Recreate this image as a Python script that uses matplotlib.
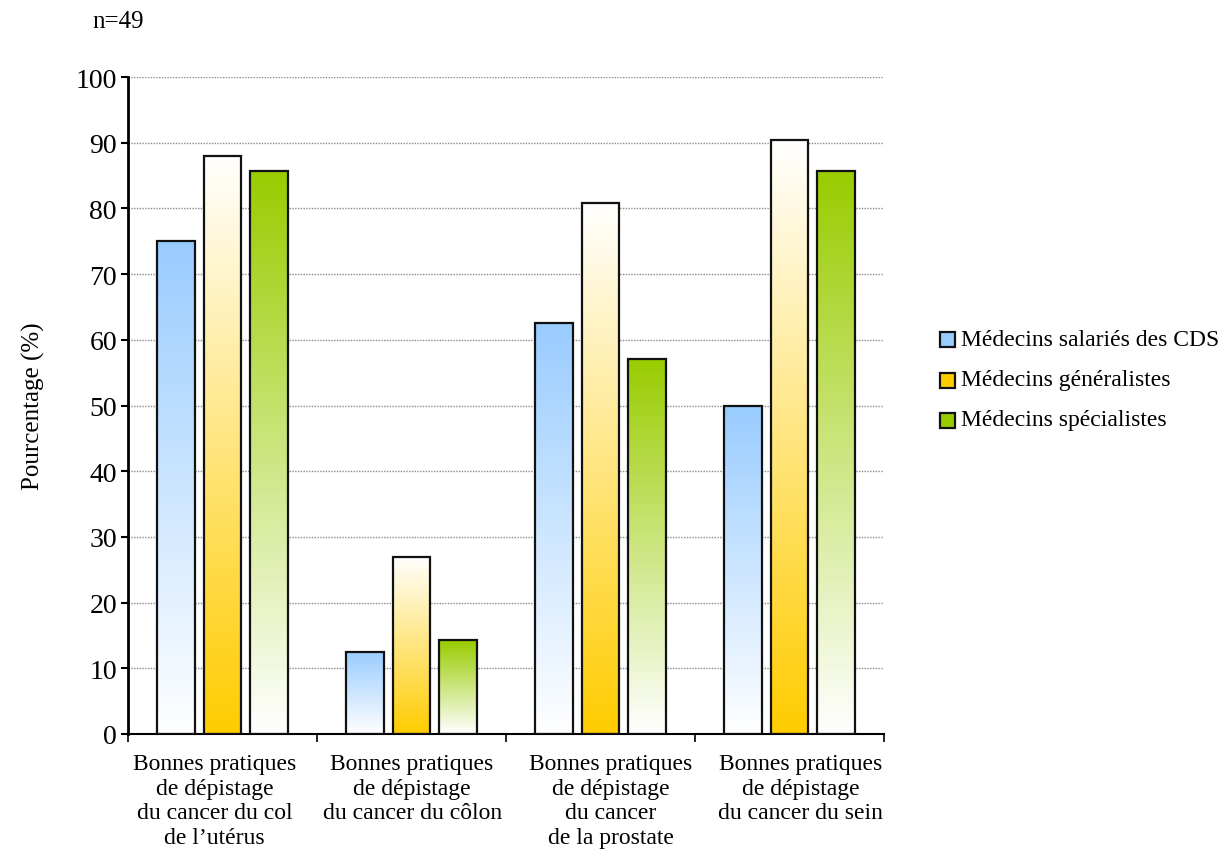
import numpy as np
import matplotlib
matplotlib.use("Agg")
import matplotlib.pyplot as plt
from matplotlib.patches import Rectangle
from matplotlib.colors import to_rgb

plt.rcParams['font.family'] = ['Liberation Serif', 'DejaVu Serif']

categories = [
    "Bonnes pratiques\nde dépistage\ndu cancer du col\nde l\u2019utérus",
    "Bonnes pratiques\nde dépistage\ndu cancer du côlon",
    "Bonnes pratiques\nde dépistage\ndu cancer\nde la prostate",
    "Bonnes pratiques\nde dépistage\ndu cancer du sein",
]
series_names = ["Médecins salariés des CDS", "Médecins généralistes", "Médecins spécialistes"]
salaries_cds = [75.0, 12.5, 62.5, 50.0]
generalistes = [88.0, 27.0, 80.8, 90.4]
specialistes = [85.7, 14.3, 57.1, 85.7]
yticks = [0, 10, 20, 30, 40, 50, 60, 70, 80, 90, 100]

series_values = [salaries_cds, generalistes, specialistes]
base_colors = ["#99ccff", "#ffcc00", "#99cc00"]
# (top colour, bottom colour) of each bar's vertical gradient
gradients = [("#99ccff", "#ffffff"), ("#ffffff", "#ffcc00"), ("#99cc00", "#ffffff")]

W, H = 1223, 854
fig = plt.figure(figsize=(W / 100, H / 100), dpi=100)
ax = fig.add_axes([128 / W, 1 - 735 / H, (884 - 128) / W, (735 - 78) / H])

bar_w = 0.2
offsets = [-0.245, 0.0, 0.245]
centers = np.arange(len(categories)) + 0.5
# horizontal nudge of each category caption relative to its group centre
label_shift = [-0.042, 0.003, 0.053, 0.058]

def gradient_image(top, bottom, n=256):
    t = np.linspace(0, 1, n)[:, None]
    top = np.array(to_rgb(top)); bottom = np.array(to_rgb(bottom))
    img = bottom[None, :] * (1 - t) + top[None, :] * t
    return img[:, None, :]

for vals, off, (ctop, cbot) in zip(series_values, offsets, gradients):
    img = gradient_image(ctop, cbot)
    for c, v in zip(centers, vals):
        x0 = c + off - bar_w / 2
        ax.imshow(img, extent=[x0, x0 + bar_w, 0, v], origin='lower',
                  aspect='auto', interpolation='bilinear', zorder=2)
        ax.add_patch(Rectangle((x0, 0), bar_w, v, facecolor='none',
                               edgecolor='#111111', linewidth=1.6, zorder=3))

ax.set_xlim(0, len(categories))
ax.set_ylim(0, 100)

for y in yticks[1:]:
    ax.axhline(y, color='#8a8a8a', linestyle=(0, (1, 1)), linewidth=1.0, zorder=1)

ax.set_yticks(yticks)
ax.set_yticklabels([str(v) for v in yticks], fontsize=20)
ax.tick_params(axis='y', direction='out', length=5, width=1.5, pad=3)

ax.set_xticks(np.arange(len(categories) + 1))
ax.set_xticklabels([])
ax.tick_params(axis='x', which='major', direction='out', length=6, width=1.2)
ax.set_xticks(centers + np.array(label_shift), minor=True)
ax.set_xticklabels(categories, minor=True, fontsize=17, linespacing=1.22)
ax.tick_params(axis='x', which='minor', length=0, pad=14)

for s in ['top', 'right']:
    ax.spines[s].set_visible(False)
ax.spines['left'].set_linewidth(2.0)
ax.spines['bottom'].set_linewidth(1.5)

ax.set_ylabel("Pourcentage (%)", fontsize=18, labelpad=22)

fig.text(92 / W, 1 - 22 / H, "n=49", fontsize=18, ha='left', va='center')

# legend, drawn in figure pixel coordinates
rows_y = [340, 381, 421]
sq = 15
for name, col, yy in zip(series_names, base_colors, rows_y):
    fig.add_artist(Rectangle((940 / W, 1 - (yy + sq / 2) / H), sq / W, sq / H,
                             facecolor=col, edgecolor='#111111', linewidth=1.6,
                             transform=fig.transFigure))
    fig.text(961 / W, 1 - yy / H, name, fontsize=17, ha='left', va='center')

fig.savefig("out.png", dpi=100)
